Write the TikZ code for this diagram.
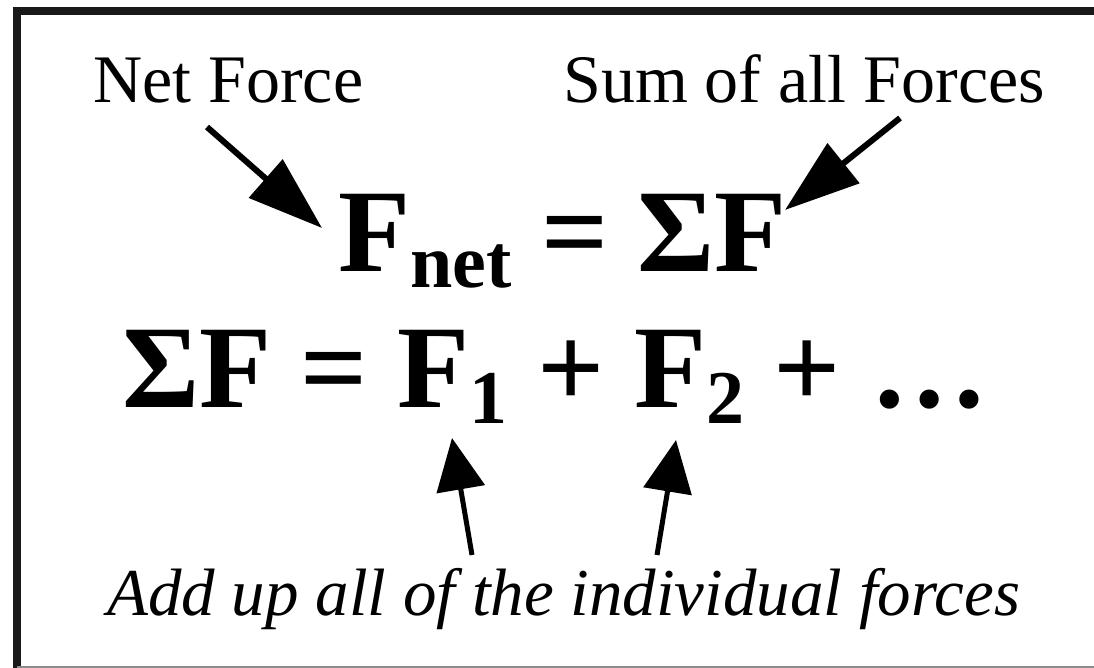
\documentclass[tikz,border=0pt]{standalone}
\usepackage{fontspec}
\setmainfont{Liberation Serif}
\usetikzlibrary{arrows.meta}

\newcommand{\lowsub}[1]{\raisebox{-16pt}{\fontsize{76}{76}\selectfont #1}}

\begin{document}
\begin{tikzpicture}[x=1pt,y=-1pt,
    lbl/.style={inner sep=0pt,anchor=base west,font=\fontsize{68}{68}\selectfont},
    eqn/.style={inner sep=0pt,anchor=base west,font=\fontsize{118}{118}\selectfont\bfseries},
    toparrow/.style={line width=6pt,-{Triangle[length=75pt,width=50pt]}},
    botarrow/.style={line width=5pt,-{Triangle[length=52pt,width=48pt]}}]

\useasboundingbox (0,0) rectangle (1094,668);

% Frame (cut off on the right and at the bottom)
\draw[line width=8pt,black!90] (17,700) -- (17,11.5) -- (1110,11.5);
\draw[line width=2pt,black!45] (17,667) -- (1094,667);

% Labels
\node[lbl] (netlbl) at (93,103) {Net Force};
\node[lbl] (sumlbl) at (563,103) {Sum of all Forces};
\node[lbl,font=\fontsize{67}{67}\selectfont\itshape] (addlbl) at (107,615)
    {Add up all of the individual forces};

% Equations
\node[eqn] (fnet) at (338,272) {F\lowsub{net} = ΣF};
\node[eqn] (fsum) at (122,407) {ΣF = F\lowsub{1} + F\lowsub{2} + …};

% Arrow ends
\coordinate (netTail) at (207,127);
\coordinate (netTip) at (322,228);
\coordinate (sumTail) at (900,118);
\coordinate (sumTip) at (785,210);
\coordinate (oneTail) at (472,555);
\coordinate (oneTip) at (452,438);
\coordinate (twoTail) at (657,555);
\coordinate (twoTip) at (676,440);

% Arrows
\draw[toparrow] (netTail) -- (netTip);
\draw[toparrow] (sumTail) -- (sumTip);
\draw[botarrow] (oneTail) -- (oneTip);
\draw[botarrow] (twoTail) -- (twoTip);

\end{tikzpicture}
\end{document}
